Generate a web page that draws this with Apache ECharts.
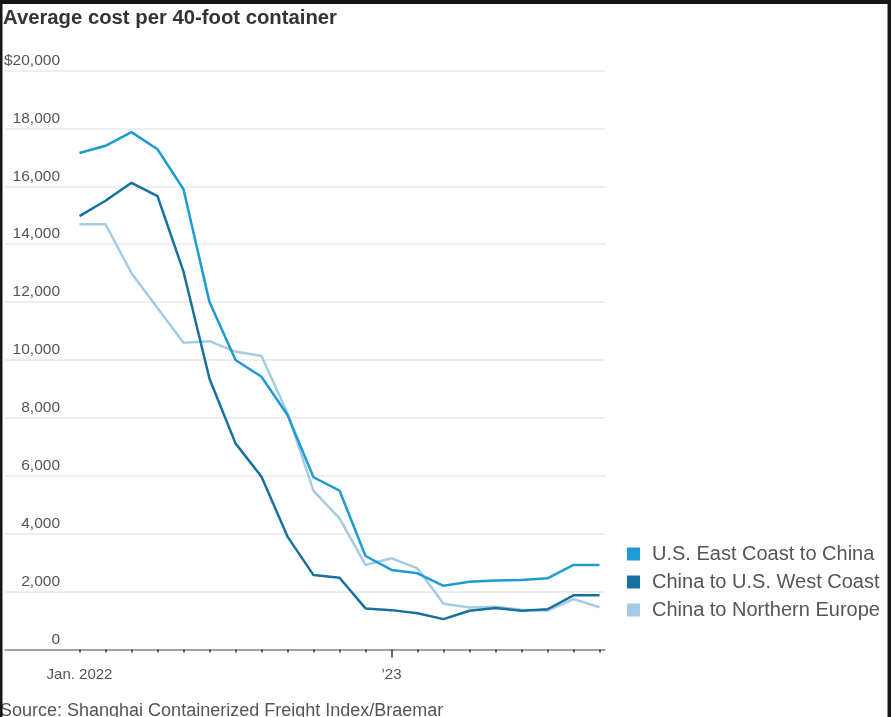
<!DOCTYPE html>
<html>
<head>
<meta charset="utf-8">
<script src="https://cdn.jsdelivr.net/npm/echarts@6/dist/echarts.min.js"></script>
<style>
  html, body { margin: 0; padding: 0; background: #fff; }
  #chart { width: 891px; height: 717px; }
</style>
</head>
<body>
<div id="chart"></div>
<script>
// ---- data ----
const months = ['Jan 2022','Feb 2022','Mar 2022','Apr 2022','May 2022','Jun 2022','Jul 2022','Aug 2022','Sep 2022','Oct 2022','Nov 2022','Dec 2022',
                'Jan 2023','Feb 2023','Mar 2023','Apr 2023','May 2023','Jun 2023','Jul 2023','Aug 2023','Sep 2023'];
const eastCoastToChina = [17150, 17400, 17870, 17280, 15900, 12000, 10000, 9420, 8100, 5950, 5490, 3230,
                          2750, 2630, 2200, 2340, 2380, 2400, 2460, 2920, 2920];
const chinaToWestCoast = [14970, 15500, 16120, 15660, 13050, 9350, 7120, 5970, 3900, 2570, 2480, 1420,
                          1360, 1250, 1050, 1340, 1430, 1340, 1390, 1870, 1870];
const chinaToNorthernEurope = [14690, 14690, 13000, 11800, 10600, 10650, 10290, 10140, 8160, 5480, 4530, 2920,
                               3150, 2800, 1580, 1450, 1480, 1370, 1340, 1740, 1460];
const seriesNames = ['U.S. East Coast to China', 'China to U.S. West Coast', 'China to Northern Europe'];
const xLabelIndex = [0, 12];
const xLabelText = ['Jan. 2022', '\u201923'];
const yMax = 20000, yStep = 2000;
const titleText = 'Average cost per 40-foot container';
const sourceText = 'Source: Shanghai Containerized Freight Index/Braemar';

// ---- chart ----
const colors = ['#1d9bd3', '#16719f', '#a5cbe6'];
const regular = "'Liberation Sans', Arial, sans-serif";

const toPairs = arr => arr.map((v, i) => [i, v]);
const monthIdx = months.map((m, i) => i);

const chart = echarts.init(document.getElementById('chart'), null, { renderer: 'canvas' });
chart.setOption({
  animation: false,
  backgroundColor: '#ffffff',
  title: [
    { text: titleText, left: 3, top: 7, padding: 0,
      textStyle: { fontFamily: regular, fontWeight: 'bold', fontSize: 20.3, color: '#333333', lineHeight: 22 } },
    { text: sourceText, left: 0, top: 701, padding: 0,
      textStyle: { fontFamily: regular, fontWeight: 'normal', fontSize: 18, color: '#555555', lineHeight: 20 } }
  ],
  legend: {
    orient: 'vertical', left: 622, top: 539,
    itemWidth: 13, itemHeight: 13, itemGap: 8, icon: 'rect',
    textStyle: { fontFamily: regular, fontSize: 20, color: '#555555', lineHeight: 20, padding: [0, 0, 0, 7] },
    data: seriesNames
  },
  grid: { left: 5, right: 286, top: 70.5, bottom: 67.5, containLabel: false, outerBoundsMode: 'none' },
  xAxis: [
    {
      type: 'value', min: -2.865, max: 20.21,
      axisLine: { show: true, lineStyle: { color: '#8a8a8a', width: 1.5 } },
      splitLine: { show: false },
      axisTick: { show: true, customValues: monthIdx, length: 3, lineStyle: { color: '#333', width: 1.5 } },
      axisLabel: {
        customValues: xLabelIndex, margin: 18,
        fontFamily: regular, fontSize: 15, color: '#555555',
        formatter: v => xLabelText[xLabelIndex.indexOf(Math.round(v))] || ''
      }
    },
    {
      type: 'value', min: -2.865, max: 20.21, position: 'bottom', offset: 0,
      axisLine: { show: false },
      splitLine: { show: false },
      axisTick: { show: true, customValues: [xLabelIndex[1]], length: 8, lineStyle: { color: '#333', width: 1.5 } },
      axisLabel: { show: false }
    }
  ],
  yAxis: {
    type: 'value', min: 0, max: yMax, interval: yStep,
    axisLine: { show: false }, axisTick: { show: false },
    splitLine: { show: true, lineStyle: { color: '#e9e9e9', width: 1.5 } },
    axisLabel: {
      inside: true, margin: 55, align: 'right', verticalAlign: 'bottom',
      fontFamily: regular, fontSize: 15.5, color: '#555555', padding: [0, 0, 2, 0],
      formatter: v => (v === yMax ? '$' : '') + v.toLocaleString('en-US')
    }
  },
  series: [
    { name: seriesNames[0], type: 'line', data: toPairs(eastCoastToChina), z: 4, symbol: 'none',
      color: colors[0], lineStyle: { color: colors[0], width: 2.5 } },
    { name: seriesNames[1], type: 'line', data: toPairs(chinaToWestCoast), z: 3, symbol: 'none',
      color: colors[1], lineStyle: { color: colors[1], width: 2.5 } },
    { name: seriesNames[2], type: 'line', data: toPairs(chinaToNorthernEurope), z: 2, symbol: 'none',
      color: colors[2], lineStyle: { color: colors[2], width: 2.5 } }
  ],
  graphic: [
    { type: 'rect', left: 0, top: 0, shape: { width: 891, height: 4 }, style: { fill: '#161616' }, z: 100 },
    { type: 'rect', left: 0, top: 0, shape: { width: 2.5, height: 717 }, style: { fill: '#161616' }, z: 100 },
    { type: 'rect', left: 887.5, top: 0, shape: { width: 3.5, height: 717 }, style: { fill: '#161616' }, z: 100 }
  ]
});
</script>
</body>
</html>
